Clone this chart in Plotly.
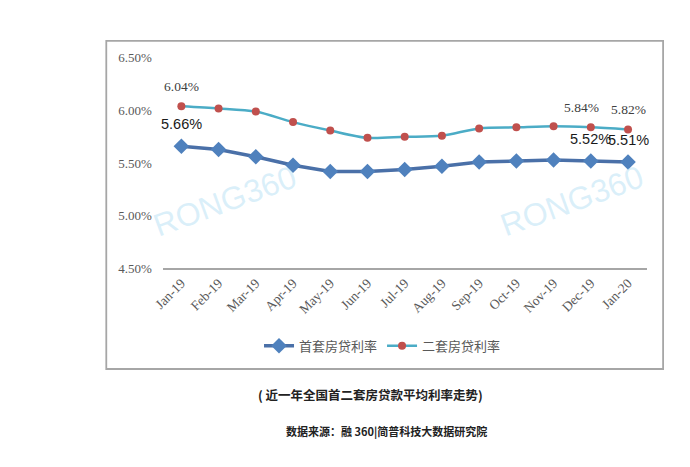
import plotly.graph_objects as go

months = ["Jan-19", "Feb-19", "Mar-19", "Apr-19", "May-19", "Jun-19", "Jul-19",
          "Aug-19", "Sep-19", "Oct-19", "Nov-19", "Dec-19", "Jan-20"]
first_home = [5.66, 5.63, 5.56, 5.48, 5.42, 5.42, 5.44, 5.47, 5.51, 5.52, 5.53, 5.52, 5.51]
second_home = [6.04, 6.02, 5.99, 5.89, 5.81, 5.74, 5.75, 5.76, 5.83, 5.84, 5.85, 5.84, 5.82]
ytick_vals = [4.5, 5.0, 5.5, 6.0, 6.5]
ytick_text = ["4.50%", "5.00%", "5.50%", "6.00%", "6.50%"]
series_names = ["首套房贷利率", "二套房贷利率"]
caption = "( 近一年全国首二套房贷款平均利率走势)"
source = "数据来源：融 360|简普科技大数据研究院"

W, H = 690, 467
serif = "Liberation Serif, Times New Roman, serif"
cjk = "Noto Sans CJK SC"

fig = go.Figure()
fig.add_trace(go.Scatter(
    x=months, y=first_home, name=series_names[0], mode="lines+markers",
    line=dict(color="#4A70A8", width=3.5),
    marker=dict(symbol="diamond", size=12, color="#4F81BD"),
))
fig.add_trace(go.Scatter(
    x=months, y=second_home, name=series_names[1], mode="lines+markers",
    line=dict(color="#4BACC6", width=2.5, shape="spline", smoothing=0.8),
    marker=dict(symbol="circle", size=8, color="#C0504D"),
))

ann = []
# second-home labels (serif gray)
for i, xs in [(0, 0), (11, -9), (12, 0)]:
    ann.append(dict(x=months[i], y=second_home[i], xref="x", yref="y",
                    text=f"{second_home[i]:.2f}%", showarrow=False, yshift=20, xshift=xs,
                    font=dict(family=serif, size=13.5, color="#404040")))
# first-home labels (sans black)
for i, xs in [(0, 0), (11, 0), (12, 0)]:
    ann.append(dict(x=months[i], y=first_home[i], xref="x", yref="y",
                    text=f"{first_home[i]:.2f}%", showarrow=False, yshift=22, xshift=xs,
                    font=dict(family="Liberation Sans, Arial, sans-serif", size=14.5, color="#1a1a1a")))
# watermarks
for cx, cy in [(218, 200), (570, 200)]:
    ann.append(dict(x=cx / W, y=1 - cy / H, xref="paper", yref="paper", text="RONG360",
                    showarrow=False, textangle=-20, xanchor="center", yanchor="middle",
                    font=dict(family="Liberation Sans, Arial, sans-serif", size=32,
                              color="rgba(150,210,240,0.35)")))
# captions
ann.append(dict(x=366 / W, y=1 - 400 / H, xref="paper", yref="paper", text="<b>" + caption + "</b>",
                showarrow=False, xanchor="center", yanchor="middle",
                font=dict(family=cjk, size=12.5, color="#222222")))
ann.append(dict(x=382 / W, y=1 - 438 / H, xref="paper", yref="paper", text="<b>" + source + "</b>",
                showarrow=False, xanchor="center", yanchor="middle",
                font=dict(family=cjk, size=11, color="#222222")))

fig.update_layout(
    width=W, height=H,
    margin=dict(l=0, r=0, t=0, b=0),
    paper_bgcolor="white", plot_bgcolor="white",
    showlegend=True,
    legend=dict(orientation="h", x=378 / W, xanchor="center", y=1 - 350 / H, yanchor="middle",
                font=dict(family=cjk, size=13, color="#595959"), bgcolor="rgba(0,0,0,0)",
                itemwidth=30),
    xaxis=dict(domain=[155 / W, 646 / W], type="category", categoryorder="array",
               categoryarray=months, range=[-0.5, len(months) - 0.5], tickangle=-45,
               showgrid=False, zeroline=False,
               showline=True, linecolor="#A6A6A6", linewidth=1.5, ticks="",
               tickfont=dict(family=serif, size=13.5, color="#595959"), fixedrange=True),
    yaxis=dict(domain=[1 - 270 / H, 1 - 52.6 / H], range=[4.5, 6.5], tickvals=ytick_vals,
               ticktext=ytick_text, showgrid=False, zeroline=False, showline=False,
               ticks="", ticklabelstandoff=10,
               tickfont=dict(family=serif, size=13, color="#595959"), fixedrange=True),
    annotations=ann,
    shapes=[dict(type="rect", xref="paper", yref="paper", x0=97.7 / W, x1=662.7 / W,
                 y0=1 - 374 / H, y1=1 - 35 / H, line=dict(color="#A6A6A6", width=1.8),
                 fillcolor="rgba(0,0,0,0)", layer="below")],
)

fig.write_html("out.html")
